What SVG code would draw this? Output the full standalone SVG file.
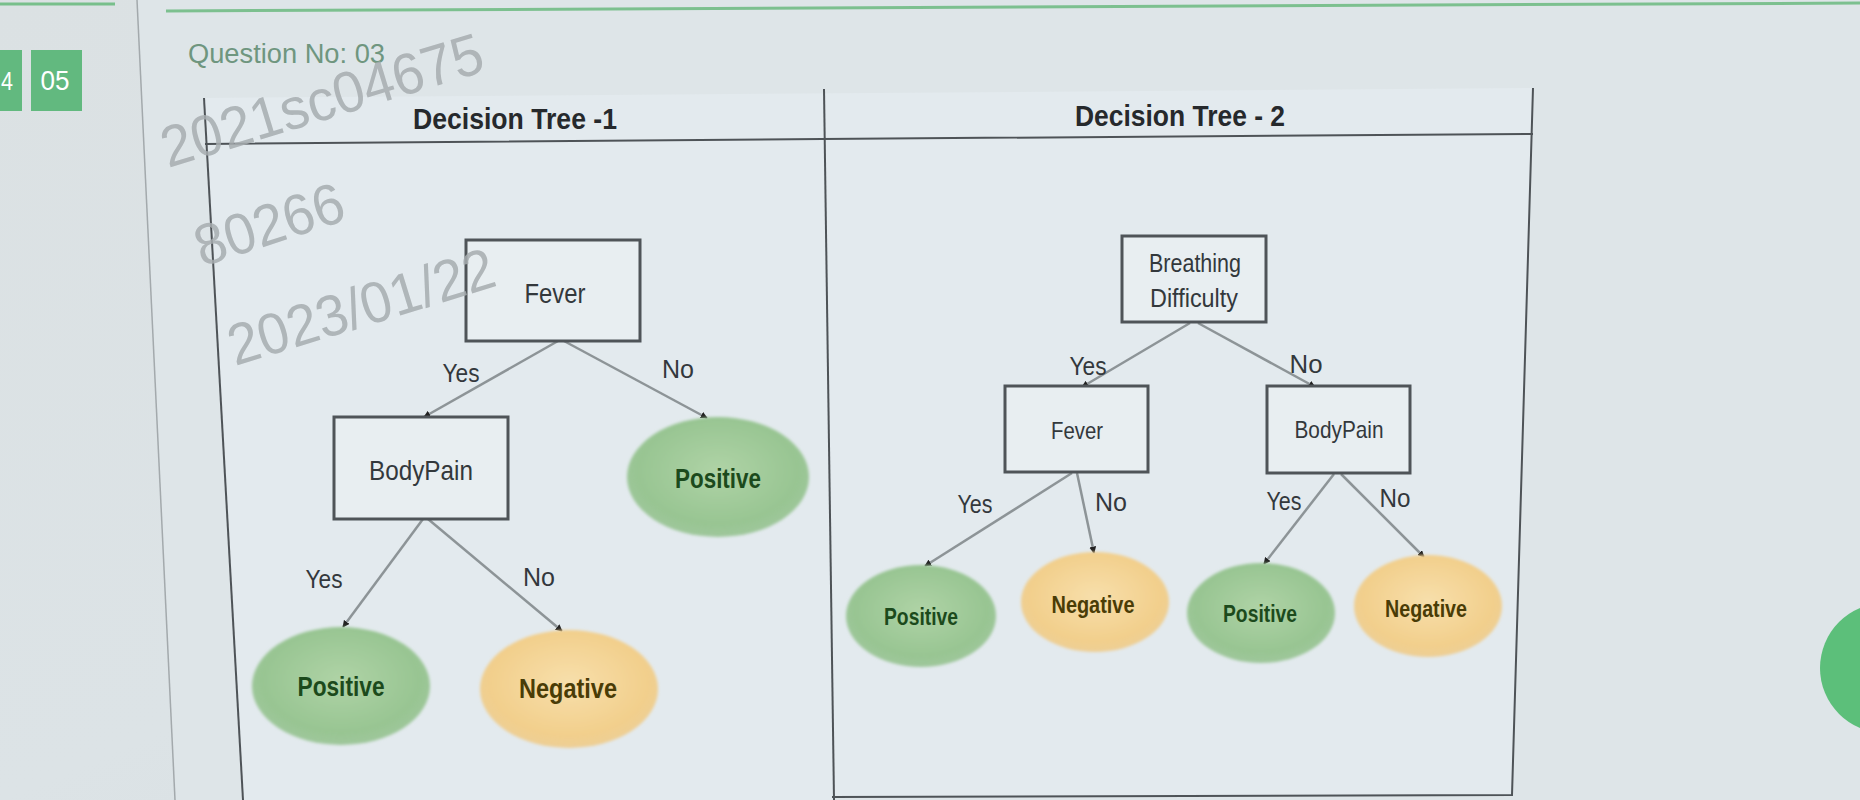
<svg xmlns="http://www.w3.org/2000/svg" width="1860" height="800" viewBox="0 0 1860 800">
<defs>
<style>
.bg{fill:url(#bgg)}
.box{fill:#e8eef1;stroke:#4f5458;stroke-width:3}
.con{stroke:#8d9497;stroke-width:2.5;fill:none;marker-end:url(#ah)}
.border{stroke:#4e5357;stroke-width:2;fill:none}
.t{font-family:"Liberation Sans",Arial,sans-serif;text-anchor:middle;fill:#33383c}
.title{font-family:"Liberation Sans",Arial,sans-serif;font-weight:bold;text-anchor:middle;fill:#26292c;font-size:30px}
.lbl{font-size:25px}
.pos{fill:#1c4a1c;font-weight:bold}
.neg{fill:#4a3c06;font-weight:bold}
.wm{font-family:"Liberation Sans",Arial,sans-serif;font-size:58px;fill:#a7adb0;opacity:0.85}
</style>
<linearGradient id="bgg" x1="0" y1="0" x2="1" y2="1">
<stop offset="0" stop-color="#dbe1e3"/>
<stop offset="0.5" stop-color="#dce3e6"/>
<stop offset="1" stop-color="#d3dadd"/>
</linearGradient>
<radialGradient id="gg" cx="0.5" cy="0.45" r="0.55">
<stop offset="0" stop-color="#afd3a6"/>
<stop offset="0.8" stop-color="#98c592"/>
<stop offset="1" stop-color="#93c18d" stop-opacity="0.85"/>
</radialGradient>
<radialGradient id="og" cx="0.5" cy="0.45" r="0.55">
<stop offset="0" stop-color="#f7dfab"/>
<stop offset="0.8" stop-color="#f2cf8c"/>
<stop offset="1" stop-color="#efca86" stop-opacity="0.85"/>
</radialGradient>
<filter id="soft" x="-10%" y="-10%" width="120%" height="120%"><feGaussianBlur stdDeviation="1.5"/></filter>
<marker id="ah" viewBox="0 0 10 10" refX="9" refY="5" markerWidth="7" markerHeight="7" markerUnits="userSpaceOnUse" orient="auto">
<path d="M0,0 L10,5 L0,10 z" fill="#222"/>
</marker>
</defs>

<rect class="bg" x="0" y="0" width="1860" height="800"/>
<polygon points="137,0 1860,0 1860,800 175,800" fill="#dee5e8"/>
<polygon points="204,98 1533,88 1512,795 834,797 834,800 243,800" fill="#e3eaee"/>

<g id="chrome">
<line x1="0" y1="4" x2="115" y2="4" stroke="#78bf8b" stroke-width="3"/>
<line x1="166" y1="11" x2="1860" y2="3" stroke="#7cc08f" stroke-width="3"/>
<line x1="137" y1="0" x2="175" y2="800" stroke="#a3a9ac" stroke-width="1.5"/>
<rect x="0" y="50" width="22" height="61" fill="#62b97f"/>
<text x="1" y="90" font-family="Liberation Sans,Arial,sans-serif" font-size="26" fill="#ffffff" textLength="12" lengthAdjust="spacingAndGlyphs">4</text>
<rect x="31" y="50" width="51" height="61" fill="#62b97f"/>
<text x="55" y="90" font-family="Liberation Sans,Arial,sans-serif" font-size="28" fill="#ffffff" text-anchor="middle" textLength="29" lengthAdjust="spacingAndGlyphs">05</text>
<text x="188" y="63" font-family="Liberation Sans,Arial,sans-serif" font-size="27" fill="#6f967f" textLength="197" lengthAdjust="spacingAndGlyphs">Question No: 03</text>
</g>

<g id="table">
<polyline class="border" points="204,98 243,800"/>
<polyline class="border" points="824,89 834,800"/>
<polyline class="border" points="1533,88 1512,795 832,797"/>
<polyline class="border" points="205,144 822,139 1533,134"/>
<text class="title" x="515" y="129" textLength="204" lengthAdjust="spacingAndGlyphs">Decision Tree -1</text>
<text class="title" x="1180" y="126" textLength="210" lengthAdjust="spacingAndGlyphs">Decision Tree - 2</text>
</g>

<g id="connectors">
<line class="con" x1="558" y1="341" x2="424" y2="417"/>
<line class="con" x1="564" y1="341" x2="707" y2="418"/>
<line class="con" x1="423" y1="519" x2="343" y2="627"/>
<line class="con" x1="428" y1="519" x2="562" y2="631"/>
<line class="con" x1="1190" y1="323" x2="1082" y2="387"/>
<line class="con" x1="1198" y1="323" x2="1315" y2="387"/>
<line class="con" x1="1072" y1="473" x2="925" y2="566"/>
<line class="con" x1="1077" y1="473" x2="1094" y2="553"/>
<line class="con" x1="1334" y1="474" x2="1264" y2="564"/>
<line class="con" x1="1341" y1="474" x2="1424" y2="557"/>
<text class="t lbl" x="461" y="382" textLength="37" lengthAdjust="spacingAndGlyphs">Yes</text>
<text class="t lbl" x="678" y="378" textLength="32" lengthAdjust="spacingAndGlyphs">No</text>
<text class="t lbl" x="324" y="588" textLength="37" lengthAdjust="spacingAndGlyphs">Yes</text>
<text class="t lbl" x="539" y="586" textLength="32" lengthAdjust="spacingAndGlyphs">No</text>
<text class="t lbl" x="1088" y="375" textLength="37" lengthAdjust="spacingAndGlyphs">Yes</text>
<text class="t lbl" x="1306" y="373" textLength="33" lengthAdjust="spacingAndGlyphs">No</text>
<text class="t lbl" x="975" y="513" textLength="35" lengthAdjust="spacingAndGlyphs">Yes</text>
<text class="t lbl" x="1111" y="511" textLength="32" lengthAdjust="spacingAndGlyphs">No</text>
<text class="t lbl" x="1284" y="510" textLength="35" lengthAdjust="spacingAndGlyphs">Yes</text>
<text class="t lbl" x="1395" y="507" textLength="31" lengthAdjust="spacingAndGlyphs">No</text>
</g>

<g id="t1-fever">
<rect class="box" x="466" y="240" width="174" height="101"/>
<text class="t" x="555" y="303" font-size="28" textLength="61" lengthAdjust="spacingAndGlyphs">Fever</text>
</g>
<g id="t1-bodypain">
<rect class="box" x="334" y="417" width="174" height="102"/>
<text class="t" x="421" y="480" font-size="28" textLength="104" lengthAdjust="spacingAndGlyphs">BodyPain</text>
</g>
<g id="t1-positive-a">
<ellipse cx="718" cy="477" rx="91" ry="60" fill="url(#gg)" filter="url(#soft)"/>
<text class="t pos" x="718" y="488" font-size="27" textLength="86" lengthAdjust="spacingAndGlyphs">Positive</text>
</g>
<g id="t1-positive-b">
<ellipse cx="341" cy="686" rx="89" ry="59" fill="url(#gg)" filter="url(#soft)"/>
<text class="t pos" x="341" y="696" font-size="27" textLength="87" lengthAdjust="spacingAndGlyphs">Positive</text>
</g>
<g id="t1-negative">
<ellipse cx="569" cy="689" rx="89" ry="59" fill="url(#og)" filter="url(#soft)"/>
<text class="t neg" x="568" y="698" font-size="27" textLength="98" lengthAdjust="spacingAndGlyphs">Negative</text>
</g>

<g id="t2-breathing">
<rect class="box" x="1122" y="236" width="144" height="86"/>
<text class="t" x="1195" y="272" font-size="25" textLength="92" lengthAdjust="spacingAndGlyphs">Breathing</text>
<text class="t" x="1194" y="307" font-size="25" textLength="88" lengthAdjust="spacingAndGlyphs">Difficulty</text>
</g>
<g id="t2-fever">
<rect class="box" x="1005" y="386" width="143" height="86"/>
<text class="t" x="1077" y="439" font-size="24" textLength="52" lengthAdjust="spacingAndGlyphs">Fever</text>
</g>
<g id="t2-bodypain">
<rect class="box" x="1267" y="386" width="143" height="87"/>
<text class="t" x="1339" y="438" font-size="24" textLength="89" lengthAdjust="spacingAndGlyphs">BodyPain</text>
</g>
<g id="t2-positive-a">
<ellipse cx="921" cy="616" rx="75" ry="51" fill="url(#gg)" filter="url(#soft)"/>
<text class="t pos" x="921" y="625" font-size="24" textLength="74" lengthAdjust="spacingAndGlyphs">Positive</text>
</g>
<g id="t2-negative-a">
<ellipse cx="1095" cy="602" rx="74" ry="50" fill="url(#og)" filter="url(#soft)"/>
<text class="t neg" x="1093" y="613" font-size="24" textLength="83" lengthAdjust="spacingAndGlyphs">Negative</text>
</g>
<g id="t2-positive-b">
<ellipse cx="1261" cy="613" rx="74" ry="50" fill="url(#gg)" filter="url(#soft)"/>
<text class="t pos" x="1260" y="622" font-size="24" textLength="74" lengthAdjust="spacingAndGlyphs">Positive</text>
</g>
<g id="t2-negative-b">
<ellipse cx="1428" cy="606" rx="74" ry="51" fill="url(#og)" filter="url(#soft)"/>
<text class="t neg" x="1426" y="617" font-size="24" textLength="82" lengthAdjust="spacingAndGlyphs">Negative</text>
</g>

<circle cx="1885" cy="668" r="65" fill="#5cbf7a"/>

<g id="watermark">
<text class="wm" x="168" y="168" transform="rotate(-17 168 168)" textLength="334" lengthAdjust="spacingAndGlyphs">2021sc04675</text>
<text class="wm" x="202" y="267" transform="rotate(-18 202 267)" textLength="154" lengthAdjust="spacingAndGlyphs">80266</text>
<text class="wm" x="235" y="366" transform="rotate(-17 235 366)" textLength="276" lengthAdjust="spacingAndGlyphs">2023/01/22</text>
</g>
</svg>
